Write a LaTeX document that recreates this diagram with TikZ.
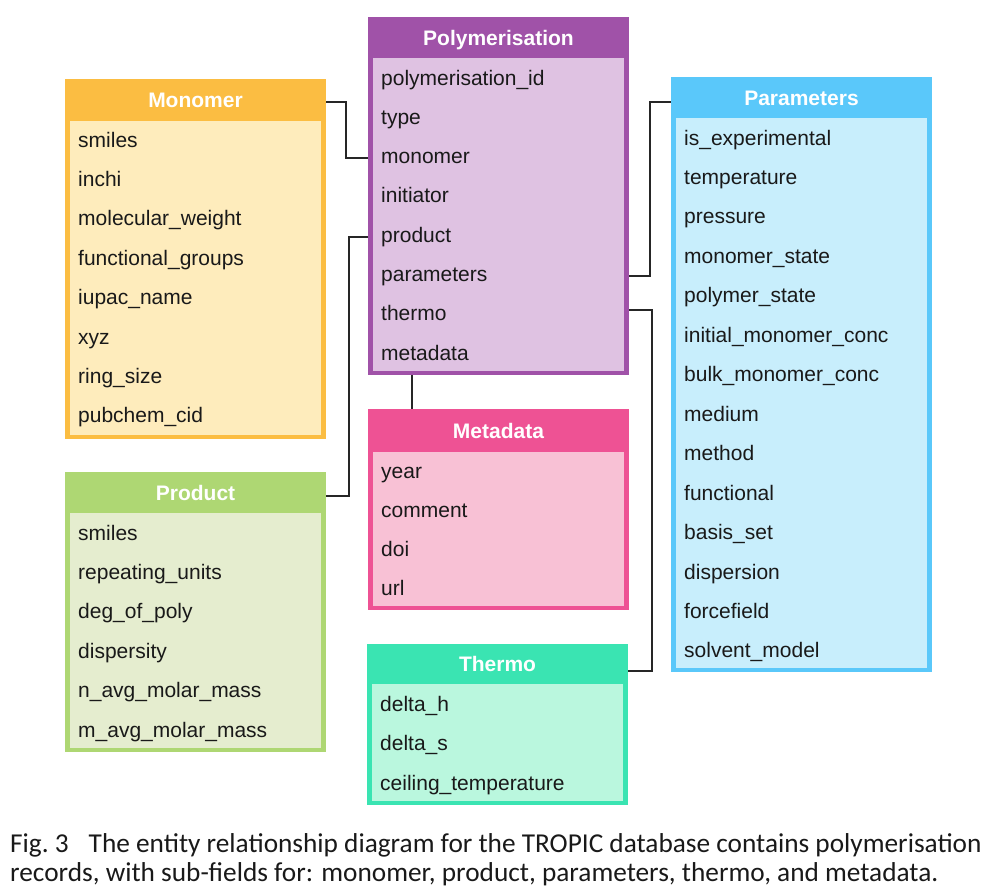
\documentclass[tikz,border=0pt]{standalone}
\usepackage{fontspec}
\setmainfont{Liberation Sans}
\newfontfamily\capfont{Carlito}
\definecolor{monhead}{RGB}{251,189,66}
\definecolor{monbody}{RGB}{254,236,188}
\definecolor{polyhead}{RGB}{160,82,168}
\definecolor{polybody}{RGB}{223,194,226}
\definecolor{parhead}{RGB}{90,200,250}
\definecolor{parbody}{RGB}{200,238,252}
\definecolor{metahead}{RGB}{238,82,148}
\definecolor{metabody}{RGB}{248,193,213}
\definecolor{prodhead}{RGB}{174,215,115}
\definecolor{prodbody}{RGB}{229,237,207}
\definecolor{thermohead}{RGB}{58,228,178}
\definecolor{thermobody}{RGB}{186,247,222}
\begin{document}
\begin{tikzpicture}[x = 1pt, y = -1pt,
    box/.style = {anchor = north west, inner sep = 0, outer sep = 0},
    title/.style = {box, text = white, text height = 15pt, text depth = 0pt,
                    font = \fontsize{21}{24}\selectfont\bfseries},
    field/.style = {anchor = base west, inner sep = 0, text height = 15pt, text depth = 4pt,
                    text = black!90, font = \fontsize{21}{24}\selectfont},
    caption/.style = {anchor = base west, inner sep = 0, text = black!90,
                    font = \capfont\fontsize{27.3}{30}\selectfont},
    link/.style = {line width = 2pt, black!85}]
            \useasboundingbox (0, 0) rectangle (997, 892);
            % Polymerisation
            \node [box, fill = polyhead, minimum width = 261pt, minimum height = 358pt] (poly) at (368, 17) {};
            \node [box, fill = polybody, minimum width = 251pt, minimum height = 313pt] (poly-body) at (373, 58) {};
            \node [title, minimum width = 261pt, minimum height = 41pt] (poly-head) at (368, 17) {Polymerisation};
            \foreach \fld [count = \i] in {polymerisation\_id, type, monomer, initiator, product, parameters, thermo, metadata}
                \node [field] (poly-\i) at (381, 85 + 39.3 * \i - 39.3) {\fld};
            % Monomer
            \node [box, fill = monhead, minimum width = 261pt, minimum height = 360pt] (monomer) at (65, 79) {};
            \node [box, fill = monbody, minimum width = 251pt, minimum height = 314pt] (monomer-body) at (70, 121) {};
            \node [title, minimum width = 261pt, minimum height = 42pt] (monomer-head) at (65, 79) {Monomer};
            \foreach \fld [count = \i] in {smiles, inchi, molecular\_weight, functional\_groups, iupac\_name, xyz, ring\_size, pubchem\_cid}
                \node [field] (monomer-\i) at (78, 147 + 39.4 * \i - 39.4) {\fld};
            % Parameters
            \node [box, fill = parhead, minimum width = 261pt, minimum height = 595pt] (param) at (671, 77) {};
            \node [box, fill = parbody, minimum width = 251pt, minimum height = 550pt] (param-body) at (676, 118) {};
            \node [title, minimum width = 261pt, minimum height = 41pt] (param-head) at (671, 77) {Parameters};
            \foreach \fld [count = \i] in {is\_experimental, temperature, pressure, monomer\_state, polymer\_state,
                    initial\_monomer\_conc, bulk\_monomer\_conc, medium, method, functional, basis\_set,
                    dispersion, forcefield, solvent\_model}
                \node [field] (param-\i) at (684, 145 + 39.46 * \i - 39.46) {\fld};
            % Metadata
            \node [box, fill = metahead, minimum width = 261pt, minimum height = 201pt] (meta) at (368, 409) {};
            \node [box, fill = metabody, minimum width = 251pt, minimum height = 154pt] (meta-body) at (373, 452) {};
            \node [title, minimum width = 261pt, minimum height = 43pt] (meta-head) at (368, 409) {Metadata};
            \foreach \fld [count = \i] in {year, comment, doi, url}
                \node [field] (meta-\i) at (381, 478 + 39 * \i - 39) {\fld};
            % Product
            \node [box, fill = prodhead, minimum width = 261pt, minimum height = 280pt] (product) at (65, 472) {};
            \node [box, fill = prodbody, minimum width = 251pt, minimum height = 235pt] (product-body) at (70, 513) {};
            \node [title, minimum width = 261pt, minimum height = 41pt] (product-head) at (65, 472) {Product};
            \foreach \fld [count = \i] in {smiles, repeating\_units, deg\_of\_poly, dispersity, n\_avg\_molar\_mass, m\_avg\_molar\_mass}
                \node [field] (product-\i) at (78, 540 + 39.4 * \i - 39.4) {\fld};
            % Thermo
            \node [box, fill = thermohead, minimum width = 261pt, minimum height = 161pt] (thermo) at (367, 644) {};
            \node [box, fill = thermobody, minimum width = 251pt, minimum height = 117pt] (thermo-body) at (372, 684) {};
            \node [title, minimum width = 261pt, minimum height = 40pt] (thermo-head) at (367, 644) {Thermo};
            \foreach \fld [count = \i] in {delta\_h, delta\_s, ceiling\_temperature}
                \node [field] (thermo-\i) at (380, 711 + 39.5 * \i - 39.5) {\fld};
            % links
            \draw [link] ([yshift = -2pt]monomer-head.east) -- ++(20, 0) |- (poly.west |- poly-3);
            \draw [link] (poly.west |- poly-5) -- ++(-19, 0) |- ([yshift = -3pt]product-head.east);
            \draw [link] (poly.east |- poly-6) -- ++(21, 0) |- ([yshift = -4pt]param-head.west);
            \draw [link] ([yshift = 5pt]poly.east |- poly-7) -- ++(23, 0) |- ([yshift = -7pt]thermo-head.east);
            \draw [link] ([xshift = 44pt]poly.south west) -- ([xshift = 44pt]meta.north west);
            % caption
            \node [caption] (cap-1) at (10, 852)
                {Fig.~3\hspace{20pt}The entity relationship diagram for the TROPIC database contains polymerisation};
            \node [caption] (cap-2) at (10, 881)
                {records, with sub-fields for: monomer, product, parameters, thermo, and metadata.};
        \end{tikzpicture}
\end{document}
